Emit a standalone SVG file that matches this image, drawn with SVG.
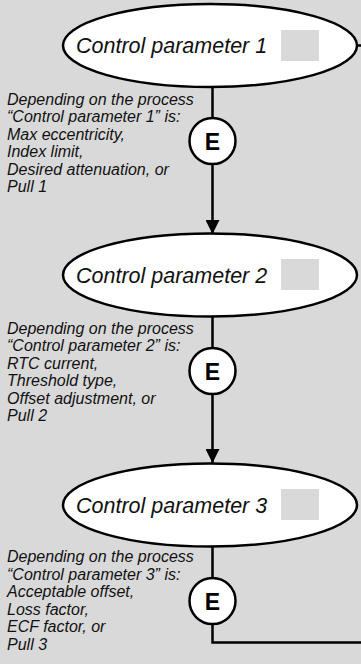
<svg xmlns="http://www.w3.org/2000/svg" width="361" height="664" viewBox="0 0 361 664">
<defs>
<style>
.bg{fill:#d9d9d9}
.node ellipse{fill:#ffffff;stroke:#000;stroke-width:2.5}
.node rect{fill:#d9d9d9}
.lbl{font-family:"Liberation Sans",Arial,sans-serif;font-style:italic;font-size:21.5px;fill:#111}
.note{font-family:"Liberation Sans",Arial,sans-serif;font-style:italic;font-size:16px;fill:#111}
.e circle{fill:#fff;stroke:#000;stroke-width:2.5}
.e text{font-family:"Liberation Sans",Arial,sans-serif;font-weight:bold;font-size:23px;fill:#000;text-anchor:middle}
.conn{fill:none;stroke:#000;stroke-width:2.5}
</style>
<marker id="arr" viewBox="0 0 14 14" refX="14" refY="7" markerWidth="14" markerHeight="14" markerUnits="userSpaceOnUse" orient="auto">
<path d="M0,0 L14,7 L0,14 Z" fill="#000"/>
</marker>
</defs>
<rect class="bg" x="0" y="0" width="361" height="664"/>
<g id="connectors">
<line class="conn" x1="212.5" y1="87" x2="212.5" y2="118"/>
<line class="conn" x1="212.5" y1="164" x2="212.5" y2="234" marker-end="url(#arr)"/>
<line class="conn" x1="212.5" y1="316" x2="212.5" y2="348"/>
<line class="conn" x1="212.5" y1="394" x2="212.5" y2="463" marker-end="url(#arr)"/>
<line class="conn" x1="212.5" y1="546" x2="212.5" y2="578"/>
<polyline class="conn" points="212.5,624 212.5,642.5 361,642.5"/>
<line class="conn" x1="357" y1="45.5" x2="361" y2="45.5"/>
</g>
<g id="cp1" class="node">
<ellipse cx="210" cy="45.5" rx="147" ry="41.5"/>
<rect x="281" y="30" width="38" height="31"/>
<text class="lbl" x="76" y="53">Control parameter 1</text>
</g>
<g id="cp2" class="node">
<ellipse cx="210" cy="275" rx="147" ry="41.5"/>
<rect x="281" y="259" width="38" height="31"/>
<text class="lbl" x="76" y="282.5">Control parameter 2</text>
</g>
<g id="cp3" class="node">
<ellipse cx="210" cy="505" rx="147" ry="41.5"/>
<rect x="281" y="489" width="38" height="31"/>
<text class="lbl" x="76" y="512.5">Control parameter 3</text>
</g>
<g id="e1" class="e">
<circle cx="212.5" cy="141" r="23"/>
<text x="212.5" y="149.5">E</text>
</g>
<g id="e2" class="e">
<circle cx="212.5" cy="371" r="23"/>
<text x="212.5" y="379.5">E</text>
</g>
<g id="e3" class="e">
<circle cx="212.5" cy="601" r="23"/>
<text x="212.5" y="609.5">E</text>
</g>
<g id="note1" class="note">
<text x="7" y="104.5">Depending on the process</text>
<text x="7" y="122">“Control parameter 1” is:</text>
<text x="7" y="139.5">Max eccentricity,</text>
<text x="7" y="157">Index limit,</text>
<text x="7" y="174.5">Desired attenuation, or</text>
<text x="7" y="192">Pull 1</text>
</g>
<g id="note2" class="note">
<text x="7" y="333.5">Depending on the process</text>
<text x="7" y="351">“Control parameter 2” is:</text>
<text x="7" y="368.5">RTC current,</text>
<text x="7" y="386">Threshold type,</text>
<text x="7" y="403.5">Offset adjustment, or</text>
<text x="7" y="421">Pull 2</text>
</g>
<g id="note3" class="note">
<text x="7" y="562">Depending on the process</text>
<text x="7" y="579.5">“Control parameter 3” is:</text>
<text x="7" y="597">Acceptable offset,</text>
<text x="7" y="614.5">Loss factor,</text>
<text x="7" y="632">ECF factor, or</text>
<text x="7" y="649.5">Pull 3</text>
</g>
</svg>
